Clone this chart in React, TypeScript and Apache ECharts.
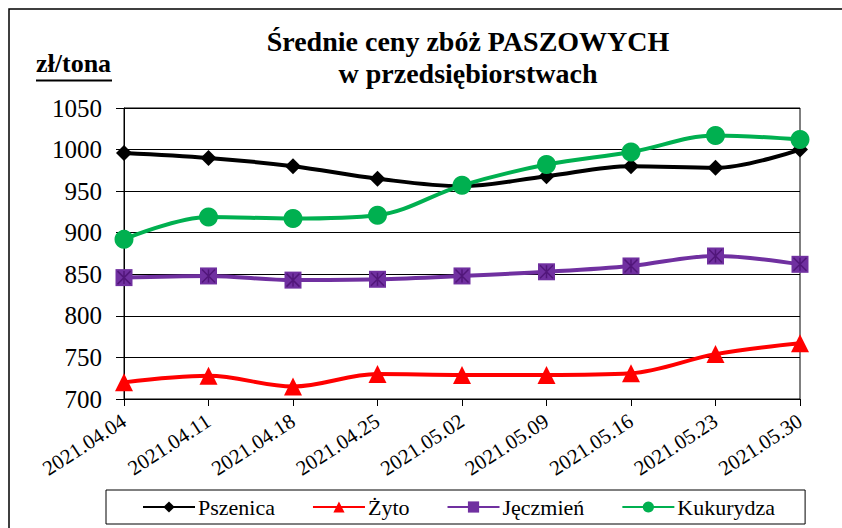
import React, { useEffect, useRef } from "react";
import * as echarts from "echarts";

const categories = [
  "2021.04.04", "2021.04.11", "2021.04.18", "2021.04.25", "2021.05.02",
  "2021.05.09", "2021.05.16", "2021.05.23", "2021.05.30",
];
const pszenica = [996, 990, 980, 965, 956, 968, 980, 978, 1000];
const zyto = [720, 728, 715, 730, 729, 729, 731, 754, 767];
const jeczmien = [846, 848, 843, 844, 848, 853, 860, 872, 862];
const kukurydza = [892, 919, 917, 921, 957, 982, 997, 1017, 1012];

const SERIF = "Liberation Serif";

export default function App() {
  const ref = useRef<HTMLDivElement>(null);
  useEffect(() => {
    if (!ref.current) return;
    const chart = echarts.init(ref.current, undefined, { renderer: "svg" });
    const lineSeries = (name: string, data: number[], color: string, symbol: string, size: number) => ({
      name,
      type: "line",
      data,
      smooth: 0.35,
      symbol,
      symbolSize: size,
      lineStyle: { color, width: 4 },
      itemStyle: { color, borderWidth: 0 },
      z: 3,
    });
    chart.setOption({
      animation: false,
      backgroundColor: "#fff",
      title: {
        text: "Średnie ceny zbóż PASZOWYCH\nw przedsiębiorstwach",
        left: 463,
        top: 20,
        textAlign: "center",
        textStyle: { fontFamily: SERIF, fontWeight: "bold", fontSize: 28, lineHeight: 32, color: "#000" },
      },
      graphic: [
        { type: "rect", shape: { x: 9, y: 9, width: 900, height: 600 }, style: { fill: "none", stroke: "#000", lineWidth: 1.5 }, silent: true },
        { type: "text", x: 36, y: 50, style: { text: "zł/tona", fontFamily: SERIF, fontWeight: "bold", fontSize: 26, fill: "#000" } },
        { type: "line", shape: { x1: 36, y1: 80.5, x2: 112, y2: 80.5 }, style: { stroke: "#000", lineWidth: 2 } },
      ],
      legend: {
        left: 106,
        top: 490,
        orient: "horizontal",
        itemWidth: 52,
        itemHeight: 14,
        itemGap: 37,
        padding: [6, 30, 6, 36],
        borderColor: "#000",
        borderWidth: 1,
        textStyle: { fontFamily: SERIF, fontSize: 22, color: "#000", padding: [0, 0, 0, -2] },
        data: ["Pszenica", "Żyto", "Jęczmień", "Kukurydza"],
      },
      grid: { left: 124, right: 42, top: 108, bottom: 129, show: true, borderColor: "#000", borderWidth: 1 },
      xAxis: {
        type: "category",
        data: categories,
        boundaryGap: false,
        axisLine: { lineStyle: { color: "#000", width: 1 } },
        axisTick: { show: true, length: 7, lineStyle: { color: "#000" } },
        axisLabel: { rotate: 33, margin: 20, fontFamily: SERIF, fontSize: 21, color: "#000", interval: 0 },
      },
      yAxis: {
        type: "value",
        min: 700,
        max: 1050,
        interval: 50,
        axisLine: { show: true, lineStyle: { color: "#000", width: 1 } },
        axisTick: { show: true, length: 8, lineStyle: { color: "#000" } },
        splitLine: { lineStyle: { color: "#000", width: 1 } },
        axisLabel: { margin: 22, fontFamily: SERIF, fontSize: 25, color: "#000", formatter: (v: number) => String(v) },
      },
      series: [
        lineSeries("Pszenica", pszenica, "#000000", "diamond", 16),
        lineSeries("Żyto", zyto, "#FF0000", "triangle", 18),
        lineSeries("Jęczmień", jeczmien, "#7030A0", "rect", 17),
        lineSeries("Kukurydza", kukurydza, "#00B050", "circle", 19),
        {
          name: "Jęczmień-star",
          type: "scatter",
          data: jeczmien,
          symbol: "path://M0 0 L10 10 M10 0 L0 10 M5 0 L5 10",
          symbolSize: 13,
          itemStyle: { color: "none", borderColor: "#4a1070", borderWidth: 1.5 },
          z: 4,
          silent: true,
        },
      ],
    });
    return () => chart.dispose();
  }, []);
  return <div ref={ref} style={{ position: "fixed", left: 0, top: 0, width: 842, height: 528 }} />;
}
